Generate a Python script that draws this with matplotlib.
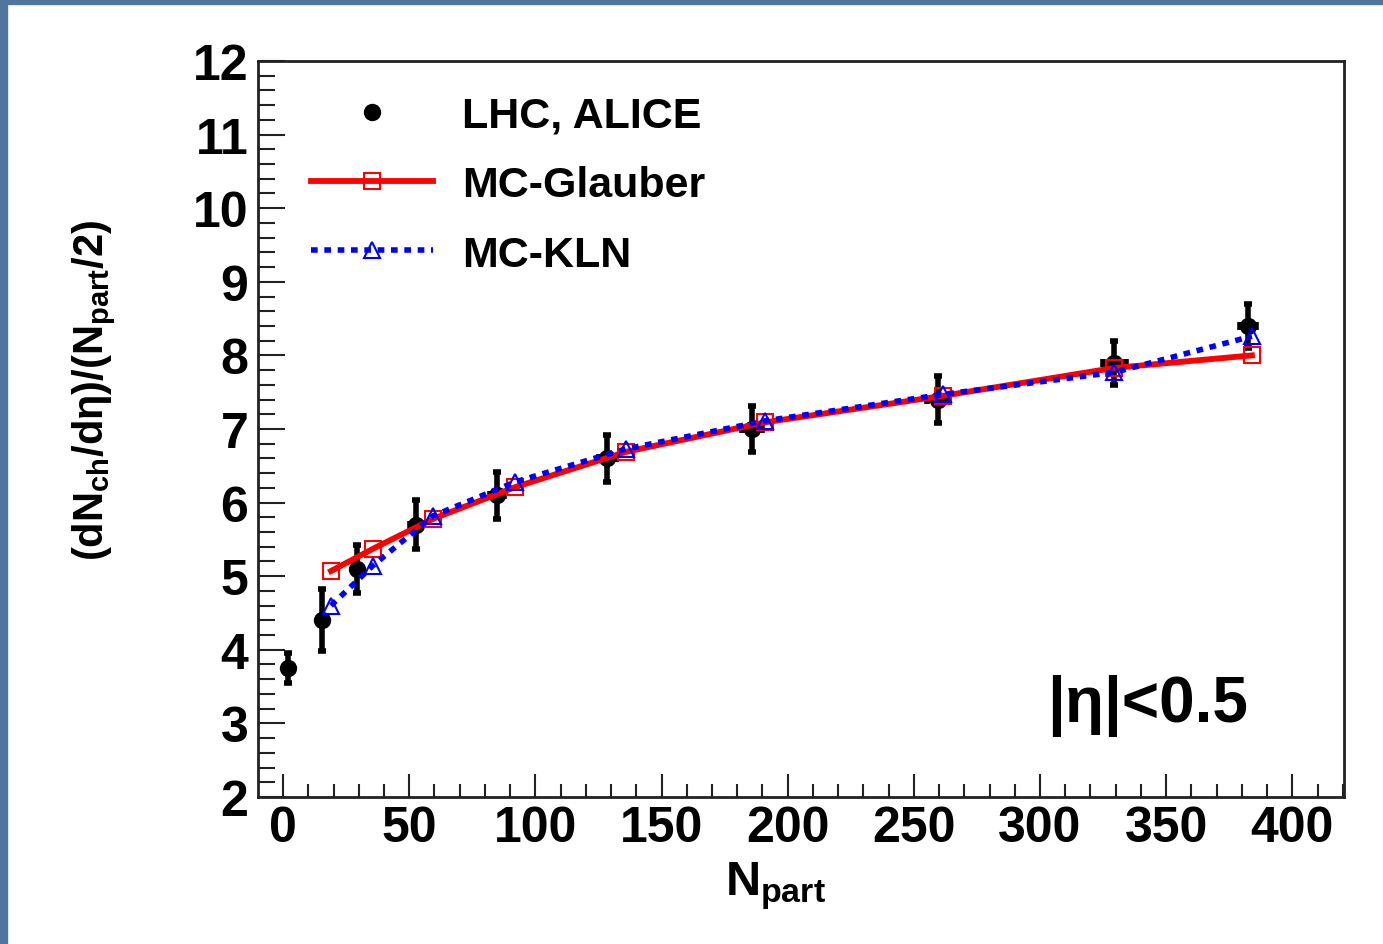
import matplotlib.pyplot as plt
from matplotlib.lines import Line2D
from matplotlib.patches import Rectangle
from matplotlib.ticker import MultipleLocator

plt.rcParams["font.family"] = ["Liberation Sans", "DejaVu Sans"]
plt.rcParams["font.weight"] = "bold"
plt.rcParams["mathtext.fontset"] = "custom"
plt.rcParams["mathtext.rm"] = "Liberation Sans:bold"
plt.rcParams["mathtext.it"] = "Liberation Sans:bold"
plt.rcParams["mathtext.bf"] = "Liberation Sans:bold"

# --- data ---
alice_npart = [2, 15.4, 29.5, 52.5, 84.8, 128.5, 186, 259.5, 329.5, 382.5]
alice_npart_err = [0, 0.6, 1.3, 2.0, 2.6, 3.3, 3.9, 4.4, 4.6, 3.1]
alice_y = [3.75, 4.4, 5.1, 5.7, 6.1, 6.6, 7.0, 7.4, 7.9, 8.4]
alice_yerr = [0.2, 0.42, 0.33, 0.33, 0.32, 0.32, 0.31, 0.32, 0.3, 0.3]

model_npart = [19, 35.5, 59.5, 92, 136, 191, 261.5, 329.5, 384]
glauber_y = [5.07, 5.37, 5.78, 6.21, 6.69, 7.09, 7.45, 7.83, 8.0]
kln_y = [4.6, 5.14, 5.82, 6.28, 6.73, 7.11, 7.47, 7.77, 8.26]

labels = ["LHC, ALICE", "MC-Glauber", "MC-KLN"]

fig = plt.figure(figsize=(13.83, 9.45), dpi=100)
bg = "#52759d"
fig.patches.append(Rectangle((0, 0), 7 / 1383, 1, transform=fig.transFigure,
                             color=bg, zorder=0))
fig.patches.append(Rectangle((0, 1 - 5 / 945), 1, 5 / 945, transform=fig.transFigure,
                             color=bg, zorder=0))

ax = fig.add_axes([0.1866, 0.1556, 0.7852, 0.7788])

ax.errorbar(alice_npart, alice_y, yerr=alice_yerr, xerr=alice_npart_err,
            fmt="o", color="black", ms=11.5, elinewidth=4, capsize=3,
            capthick=4, zorder=3)
glauber_style = dict(color="red", lw=4.2, marker="s", ms=12, mfc="none",
                     mec="red", mew=1.5)
kln_style = dict(color="blue", lw=4, ls=(0, (1.2, 1.2)), marker="^", ms=12,
                 mfc="none", mec="blue", mew=1.5)
ax.plot(model_npart, glauber_y, zorder=4, **glauber_style)
ax.plot(model_npart, kln_y, zorder=5, **kln_style)

ax.set_xlim(-9.9, 420.5)
ax.set_ylim(2, 12)
ax.xaxis.set_major_locator(MultipleLocator(50))
ax.xaxis.set_minor_locator(MultipleLocator(10))
ax.yaxis.set_major_locator(MultipleLocator(1))
ax.yaxis.set_minor_locator(MultipleLocator(0.2))

ax.tick_params(axis="both", which="both", direction="in", top=False,
               right=False, width=1.5, color="#222222", labelsize=36)
ax.tick_params(axis="y", which="major", length=19.5, pad=7)
ax.tick_params(axis="y", which="minor", length=12)
ax.tick_params(axis="x", which="major", length=16.5, pad=6)
ax.tick_params(axis="x", which="minor", length=9.5)
for s in ax.spines.values():
    s.set_linewidth(2)
    s.set_color("#222222")

# legend
h1 = Line2D([], [], ls="none", marker="o", color="black", ms=11.5)
h2 = Line2D([], [], **glauber_style)
h3 = Line2D([], [], **kln_style)
ax.legend([h1, h2, h3], labels, loc="upper left",
          bbox_to_anchor=(0.0488, 0.9525), frameon=False, fontsize=31,
          handlelength=2.84, handletextpad=0.67, labelspacing=0.68,
          borderpad=0, borderaxespad=0, numpoints=1)

ax.text(0.9116, 0.103, "|\u03b7|<0.5", transform=ax.transAxes, ha="right",
        va="baseline", fontsize=46)

fig.text(775 / 1383, 1 - 895 / 945, r"$N_{part}$", ha="center",
         va="baseline", fontsize=35)
fig.text(94 / 1383, 1 - 391 / 945, r"$(dN_{ch}/d\eta)/(N_{part}/2)$",
         rotation=90, ha="center", va="center", fontsize=30)

fig.savefig("out.png", dpi=100)
